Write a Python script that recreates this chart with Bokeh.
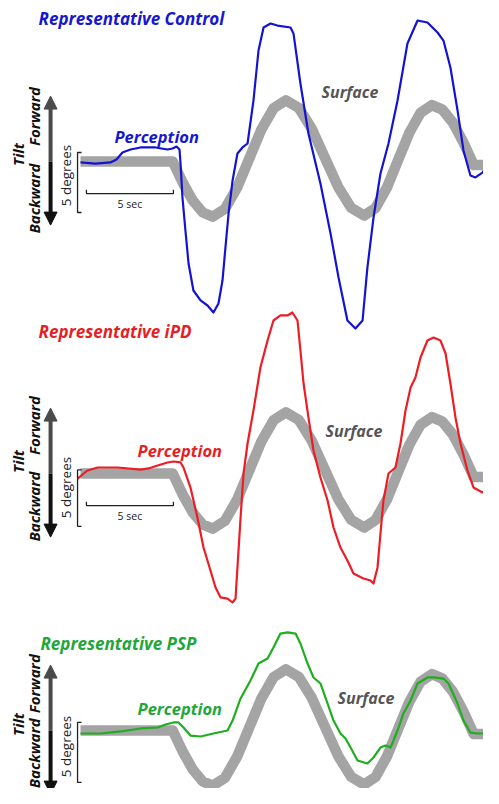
from bokeh.plotting import figure
from bokeh.models import Range1d, Label, Arrow, NormalHead
from bokeh.embed import file_html
from bokeh.resources import INLINE

# ---------------- data (time in s, tilt in degrees) ----------------
surface_t = [0, 5.3, 5.875, 6.45, 7.025, 7.6, 8.3, 9.0, 9.7, 10.4, 11.1, 11.8, 12.55, 13.3,
             14.05, 14.8, 15.55, 16.3, 16.95, 17.6, 18.25, 18.9, 19.55, 20.2, 20.8, 21.4,
             22.0, 22.6, 24.0]
surface_deg = [0, 0, -1.76, -3.25, -4.25, -4.6, -3.95, -2.18, 0.25, 2.68, 4.45, 5.1, 4.46, 2.7,
               0.3, -2.1, -3.86, -4.5, -3.88, -2.2, 0.1, 2.4, 4.08, 4.7, 4.32, 3.24,
               1.61, -0.3, -0.3]

control_t = [0, 0.86, 1.72, 2.07, 2.41, 2.87, 3.45, 4.31, 5.0, 5.29, 5.52, 5.69, 5.75, 5.86,
             6.03, 6.21, 6.49, 6.90, 7.30, 7.64, 7.93, 8.16, 8.33, 8.51, 8.74, 9.02, 9.31,
             9.60, 9.94, 10.23, 10.52, 10.92, 11.32, 12.07, 12.24, 12.64, 13.10, 13.79,
             14.37, 14.83, 15.34, 15.80, 16.21, 16.49, 16.84, 17.24, 17.70, 18.22, 18.79,
             19.37, 19.94, 20.52, 20.86, 21.26, 21.67, 22.01, 22.41, 22.70, 23.10, 23.56]
control_deg = [-0.08, -0.17, -0.08, 0.17, 0.75, 1.0, 1.17, 1.17, 1.0, 1.08, 1.25, 1.0, -0.17,
               -3.0, -5.75, -8.5, -10.75, -11.58, -12.0, -12.58, -11.83, -9.92, -7.17, -4.33,
               -1.58, 0.67, 1.17, 1.5, 5.08, 9.25, 11.17, 11.5, 11.33, 11.17, 10.67, 6.5,
               2.33, -1.83, -6.0, -9.67, -13.25, -13.92, -13.25, -8.83, -4.67, -1.0, 1.5,
               5.08, 9.83, 11.75, 11.58, 10.75, 10.08, 7.83, 4.25, 0.92, -1.17, -1.33,
               -0.92, -0.08]

ipd_t = [-0.17, 0.40, 0.98, 2.13, 3.45, 3.91, 4.43, 5.0, 5.34, 5.75, 5.92, 6.32, 6.72, 7.07,
         7.47, 7.76, 8.05, 8.45, 8.74, 8.91, 9.02, 9.20, 9.37, 9.60, 9.94, 10.34, 10.75,
         11.09, 11.49, 11.90, 12.18, 12.47, 12.64, 12.82, 13.10, 13.39, 13.79, 14.20, 14.54,
         14.94, 15.34, 15.69, 16.26, 16.67, 16.84, 17.07, 17.24, 17.41, 17.70, 18.10, 18.39,
         18.68, 18.97, 19.25, 19.54, 19.94, 20.29, 20.69, 20.98, 21.26, 21.55, 21.84, 22.24,
         22.59, 23.10, 23.56, 23.97]
ipd_deg = [-0.42, 0.25, 0.5, 0.5, 0.33, 0.42, 0.67, 0.92, 1.0, 0.92, 0.5, -1.17, -3.67, -6.17,
           -8.08, -9.5, -10.33, -10.42, -10.75, -10.42, -7.83, -3.67, 0, 2.5, 5.25, 8.83,
           11.08, 12.75, 13.17, 13.17, 13.42, 12.75, 10.25, 7.5, 4.67, 1.92, -0.33, -2.25,
           -4.5, -6.17, -7.25, -8.33, -8.75, -8.92, -9.17, -7.83, -5.0, -2.25, 0, 0.5, 2.5,
           5.25, 7.17, 8.0, 9.67, 11.08, 11.33, 11.08, 10.0, 7.5, 4.67, 2.5, 0.25, -1.17,
           -1.58, -1.17, -0.42]

psp_t = [0, 1.15, 2.30, 3.45, 4.43, 4.89, 5.34, 5.63, 5.92, 6.32, 6.90, 7.64, 8.45, 8.74,
         9.20, 9.77, 10.23, 10.75, 11.09, 11.49, 11.90, 12.36, 12.64, 13.05, 13.39, 13.79,
         14.20, 14.54, 14.94, 15.23, 15.52, 15.92, 16.49, 16.84, 17.24, 17.53, 17.82, 18.22,
         18.56, 18.97, 19.37, 19.94, 20.29, 20.86, 21.15, 21.67, 22.01, 22.41, 22.82, 23.62]
psp_deg = [-0.25, -0.25, -0.08, 0.17, 0.25, 0.5, 0.67, 0.67, 0.25, -0.42, -0.5, -0.25, 0,
           0.83, 2.67, 4.17, 5.58, 6.0, 6.92, 8.08, 8.17, 8.08, 7.25, 5.58, 4.42, 3.92, 2.25,
           0.83, -0.25, -0.67, -1.42, -2.5, -2.75, -2.25, -1.42, -1.25, -1.42, 0, 1.42, 2.5,
           3.92, 4.42, 4.42, 4.33, 3.92, 2.25, 0.83, -0.17, -0.25, -0.25]

titles = ["Representative Control", "Representative iPD", "Representative PSP"]
perception_label = "Perception"
surface_label = "Surface"

# ---------------- figure ----------------
FONT = "Open Sans"
W, H = 483, 788
p = figure(width=W, height=H, output_backend="svg", toolbar_location=None,
           x_range=Range1d(-4.598, 23.161), y_range=Range1d(-52.25, 13.417),
           min_border=0)
p.extra_y_ranges = {"ipd": Range1d(-26.25, 39.417), "psp": Range1d(-4.833, 60.833)}
p.xaxis.visible = False
p.yaxis.visible = False
p.grid.visible = False
p.outline_line_color = None
p.background_fill_color = "white"
p.border_fill_color = "white"

GRAY = "#a4a4a4"
panels = [
    dict(rn="default", t=control_t, d=control_deg, col="#1414d0", tcol="#1717cf",
         title_xy=(-2.41, 11.92), perc_xy=(1.95, 2.08), surf_xy=(13.85, 5.83),
         tilt_y=0.58, fwd_y=3.75, back_y=-3.08, deg_y=-1.17, br=(0.75, -4.25), sec=True),
    dict(rn="ipd", t=ipd_t, d=ipd_deg, col="#ee1c24", tcol="#e51f25",
         title_xy=(-2.41, 11.83), perc_xy=(3.28, 1.92), surf_xy=(14.08, 3.58),
         tilt_y=1.0, fwd_y=4.0, back_y=-2.75, deg_y=-1.17, br=(0.3, -4.4), sec=True),
    dict(rn="psp", t=psp_t, d=psp_deg, col="#1fae1f", tcol="#22a63a",
         title_xy=(-2.30, 7.25), perc_xy=(3.28, 1.83), surf_xy=(14.77, 2.75),
         tilt_y=0.5, fwd_y=3.9, back_y=-1.9, deg_y=-1.33, br=(0.67, -4.33), sec=False),
]

ARROW_X = -1.72
for i, pn in enumerate(panels):
    rn = pn["rn"]
    # surface (thick gray)
    p.line(surface_t, surface_deg, line_color=GRAY, line_width=10.5,
           line_join="round", y_range_name=rn)
    # perception
    p.line(pn["t"], pn["d"], line_color=pn["col"], line_width=2.2,
           line_join="round", y_range_name=rn)

    # double arrow: forward (up, dark gray) and backward (down, black)
    p.add_layout(Arrow(x_start=ARROW_X, y_start=0, x_end=ARROW_X, y_end=5.45,
                       line_color="#4a4a4a", line_width=4,
                       end=NormalHead(size=13, fill_color="#4a4a4a", line_color="#4a4a4a"),
                       y_range_name=rn))
    p.add_layout(Arrow(x_start=ARROW_X, y_start=0, x_end=ARROW_X, y_end=-5.3,
                       line_color="#111111", line_width=4,
                       end=NormalHead(size=13, fill_color="#111111", line_color="#111111"),
                       y_range_name=rn))

    # 5 degrees bracket
    top, bot = pn["br"]
    p.line([0.06, -0.17, -0.17, 0.06], [top, top, bot, bot], line_color="#222222",
           line_width=1.3, y_range_name=rn)

    # 5 sec bar
    if pn["sec"]:
        p.line([0.34, 0.34, 5.34, 5.34], [-2.35, -2.67, -2.67, -2.35], line_color="#222222",
               line_width=1.3, y_range_name=rn)
        p.add_layout(Label(x=2.84, y=-3.55, text="5 sec", text_font=FONT,
                           text_font_size="10.5px", text_color="#222222",
                           text_align="center", text_baseline="middle", y_range_name=rn))

    # texts
    tx, ty = pn["title_xy"]
    p.add_layout(Label(x=tx, y=ty, text=titles[i], text_font=FONT,
                       text_font_style="bold italic", text_font_size="17px",
                       text_color=pn["tcol"], text_align="left", text_baseline="middle",
                       y_range_name=rn))
    px_, py_ = pn["perc_xy"]
    p.add_layout(Label(x=px_, y=py_, text=perception_label, text_font=FONT,
                       text_font_style="bold italic", text_font_size="16.5px",
                       text_color=pn["tcol"], text_align="left", text_baseline="middle",
                       y_range_name=rn))
    sx, sy = pn["surf_xy"]
    p.add_layout(Label(x=sx, y=sy, text=surface_label, text_font=FONT,
                       text_font_style="bold italic", text_font_size="16px",
                       text_color="#555555", text_align="left", text_baseline="middle",
                       y_range_name=rn))
    p.add_layout(Label(x=-3.62, y=pn["tilt_y"], text="Tilt", text_font=FONT,
                       text_font_style="bold italic", text_font_size="15px",
                       text_color="#111111", text_align="center", text_baseline="middle",
                       angle=1.5708, y_range_name=rn))
    p.add_layout(Label(x=-2.70, y=pn["fwd_y"], text="Forward", text_font=FONT,
                       text_font_style="bold italic", text_font_size="15px",
                       text_color="#111111", text_align="center", text_baseline="middle",
                       angle=1.5708, y_range_name=rn))
    p.add_layout(Label(x=-2.70, y=pn["back_y"], text="Backward", text_font=FONT,
                       text_font_style="bold italic", text_font_size="15px",
                       text_color="#111111", text_align="center", text_baseline="middle",
                       angle=1.5708, y_range_name=rn))
    p.add_layout(Label(x=-0.86, y=pn["deg_y"], text="5 degrees", text_font=FONT,
                       text_font_size="13.5px", text_color="#222222",
                       text_align="center", text_baseline="middle",
                       angle=1.5708, y_range_name=rn))

open("out.html", "w").write(file_html(p, INLINE))
